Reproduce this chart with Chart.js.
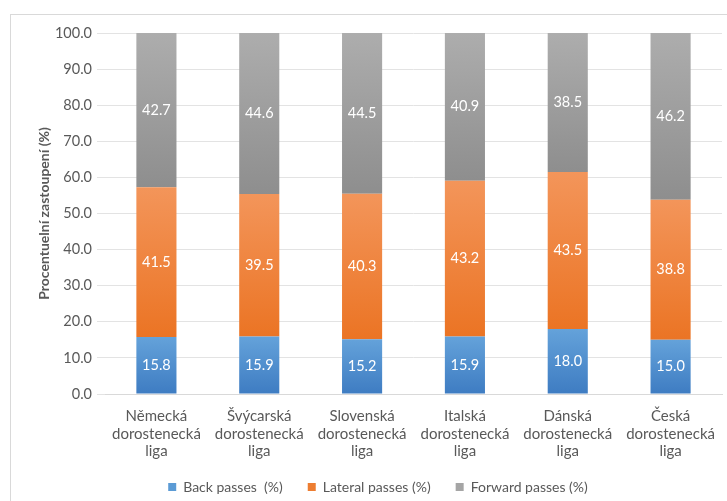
<!DOCTYPE html>
<html>
<head>
<meta charset="utf-8">
<script src="https://cdn.jsdelivr.net/npm/chart.js@4"></script>
<style>
  body { margin: 0; background: #fff; overflow: hidden; }
  #frame { position: absolute; left: 10px; top: 14px; width: 730px; height: 500px; border: 1px solid #d9d9d9; }
  #wrap { position: absolute; left: 0; top: 0; width: 727px; height: 509px; }
</style>
</head>
<body>
<div id="frame"></div>
<div id="wrap"><canvas id="chart"></canvas></div>
<script>
// Leagues (x axis)
const leagues = [
  ["Německá", "dorostenecká", "liga"],
  ["Švýcarská", "dorostenecká", "liga"],
  ["Slovenská", "dorostenecká", "liga"],
  ["Italská", "dorostenecká", "liga"],
  ["Dánská", "dorostenecká", "liga"],
  ["Česká", "dorostenecká", "liga"]
];

// Share of passes per direction (%)
const backPasses = [15.8, 15.9, 15.2, 15.9, 18.0, 15.0];
const lateralPasses = [41.5, 39.5, 40.3, 43.2, 43.5, 38.8];
const forwardPasses = [42.7, 44.6, 44.5, 40.9, 38.5, 46.2];

const seriesNames = ["Back passes  (%)", "Lateral passes (%)", "Forward passes (%)"];

// gradient colours per series: [top, bottom, legend]
const palette = [
  ["#64a2da", "#3e7cc2", "#5b9bd5"],
  ["#f3955a", "#eb7424", "#ed7d31"],
  ["#adadad", "#8e8e8e", "#a5a5a5"]
];

const allSeries = [backPasses, lateralPasses, forwardPasses];

function segmentFill(ctx) {
  const chart = ctx.chart;
  const c = palette[ctx.datasetIndex];
  if (!chart.chartArea || !chart.scales.y || ctx.type !== "data") return c[2];
  let base = 0;
  for (let i = 0; i < ctx.datasetIndex; i++) base += allSeries[i][ctx.dataIndex];
  const top = base + allSeries[ctx.datasetIndex][ctx.dataIndex];
  const y = chart.scales.y;
  const g = chart.ctx.createLinearGradient(0, y.getPixelForValue(top), 0, y.getPixelForValue(base));
  g.addColorStop(0, c[0]);
  g.addColorStop(1, c[1]);
  return g;
}

// white value labels in the middle of each segment
const valueLabels = {
  id: "valueLabels",
  afterDatasetsDraw(chart) {
    const ctx = chart.ctx;
    ctx.save();
    ctx.fillStyle = "#ffffff";
    ctx.font = "14.5px Lato";
    ctx.textAlign = "center";
    ctx.textBaseline = "middle";
    chart.data.datasets.forEach((ds, i) => {
      chart.getDatasetMeta(i).data.forEach((bar, j) => {
        const p = bar.getProps(["x", "y", "base"], true);
        ctx.fillText(ds.data[j].toFixed(1), p.x, (p.y + p.base) / 2);
      });
    });
    ctx.restore();
  }
};

// legend sits a bit right of centre and a little higher in the original
const legendShift = {
  id: "legendShift",
  afterLayout(chart) {
    const lg = chart.legend;
    lg.left += 12;
    lg.right += 12;
    lg.top -= 5;
    lg.bottom -= 5;
  }
};

new Chart(document.getElementById("chart"), {
  type: "bar",
  data: {
    labels: leagues,
    datasets: allSeries.map((vals, i) => ({
      label: seriesNames[i],
      data: vals,
      backgroundColor: segmentFill,
      barPercentage: 0.39,
      categoryPercentage: 1
    }))
  },
  options: {
    responsive: true,
    maintainAspectRatio: false,
    animation: false,
    layout: { padding: { left: 10, right: 5, top: 33, bottom: 0 } },
    plugins: {
      tooltip: { enabled: false },
      legend: {
        position: "bottom",
        labels: {
          generateLabels(chart) {
            return seriesNames.map((n, i) => ({
              text: n, fillStyle: palette[i][2], strokeStyle: palette[i][2],
              lineWidth: 0, datasetIndex: i, fontColor: "#595959"
            }));
          },
          boxWidth: 8, boxHeight: 8, padding: 25,
          color: "#595959",
          font: { family: "Lato", size: 14 }
        }
      }
    },
    scales: {
      x: {
        stacked: true,
        grid: { display: false },
        border: { color: "#d9d9d9" },
        ticks: {
          color: "#595959", font: { family: "Lato", size: 15, lineHeight: 1.15 },
          padding: 6, maxRotation: 0, autoSkip: false
        },
        afterFit(scale) { scale.height = 66; }
      },
      y: {
        stacked: true,
        min: 0, max: 100,
        ticks: {
          stepSize: 10, color: "#595959", padding: 5,
          font: { family: "Lato", size: 14.5 },
          callback: v => v.toFixed(1)
        },
        grid: { color: "#e3e3e3" },
        border: { display: false },
        title: {
          display: true, text: "Procentuelní zastoupení (%)",
          color: "#595959", font: { family: "Lato", size: 14, weight: "bold" },
          padding: { top: 26, bottom: 0 }
        },
        afterFit(scale) { scale.width = 95; }
      }
    }
  },
  plugins: [valueLabels, legendShift]
});
</script>
</body>
</html>
